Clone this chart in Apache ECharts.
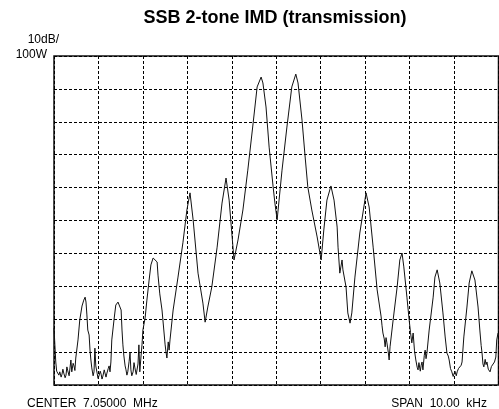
<!DOCTYPE html>
<html>
<head>
<meta charset="utf-8">
<script src="https://cdn.jsdelivr.net/npm/echarts@6/dist/echarts.min.js"></script>
<style>
html,body{margin:0;padding:0;background:#fff;}
#c{width:499px;height:409px;}
</style>
</head>
<body>
<div id="c"></div>
<script>
// Frequency offset from center (kHz), span 10 kHz
const freqKHz = [
-5.00,-4.98,-4.96,-4.94,-4.91,-4.89,-4.87,-4.84,-4.82,-4.80,-4.78,-4.75,-4.73,-4.71,-4.69,-4.66,-4.64,-4.62,-4.60,-4.57,-4.55,-4.53,-4.51,-4.46,-4.42,-4.37,-4.33,-4.30,-4.28,
-4.26,-4.24,-4.21,-4.19,-4.17,-4.15,-4.12,-4.10,-4.08,-4.06,-4.03,-4.01,-3.99,-3.96,-3.94,-3.92,-3.90,-3.87,-3.85,-3.83,-3.81,-3.78,-3.76,-3.74,-3.72,-3.70,-3.65,
-3.61,-3.56,-3.54,-3.49,-3.47,-3.45,-3.43,-3.40,-3.38,-3.36,-3.34,-3.31,-3.29,-3.27,-3.25,-3.22,-3.20,-3.18,-3.15,-3.13,-3.11,-3.09,-3.07,-3.04,-3.02,-3.00,
-2.95,-2.91,-2.86,-2.82,-2.77,-2.73,-2.68,-2.66,-2.62,-2.57,-2.55,-2.50,-2.48,-2.46,-2.43,-2.41,-2.39,-2.32,-2.21,-2.10,
-2.01,-1.94,-1.87,-1.76,-1.65,-1.60,-1.54,-1.45,-1.33,-1.22,-1.13,-1.06,-1.00,-0.95,-0.86,-0.75,-0.64,-0.52,-0.43,-0.34,
-0.30,-0.23,-0.16,-0.07,-0.03,0.02,0.13,0.24,0.35,0.44,0.49,0.58,0.65,0.71,0.80,0.92,1.01,1.07,1.14,1.23,
1.30,1.37,1.39,1.43,1.48,1.50,1.57,1.61,1.66,1.70,1.77,1.88,2.02,2.09,2.18,2.27,2.36,2.38,2.40,2.43,2.45,2.47,2.49,
2.52,2.54,2.56,2.63,2.72,2.78,2.83,2.87,2.94,2.99,3.02,3.05,3.08,3.11,3.14,3.17,3.19,3.21,3.24,3.26,3.28,3.30,3.33,3.35,3.37,3.39,3.44,3.53,3.57,
3.62,3.68,3.75,3.80,3.84,3.87,3.89,3.92,3.95,3.98,4.00,4.02,4.05,4.07,4.10,4.13,4.16,4.18,4.22,4.29,4.34,4.40,4.47,4.54,4.58,4.61,4.63,4.65,4.67,4.70,
4.72,4.74,4.77,4.81,4.84,4.88,4.91,4.94,4.96,4.99
];
// Level (dB relative to 100 W reference)
const levelDB = [
-82.7,-87.8,-93.0,-95.8,-95.4,-97.0,-96.0,-97.6,-96.7,-95.2,-96.4,-97.8,-97.0,-94.5,-95.7,-97.2,-94.8,-92.4,-96.0,-93.4,-94.2,-95.6,-91.8,-86.3,-80.2,-76.0,-74.2,-73.3,-74.8,
-78.7,-83.3,-84.8,-89.4,-92.4,-94.8,-97.2,-96.0,-88.8,-94.2,-96.4,-98.0,-97.3,-95.8,-96.7,-98.2,-97.3,-95.4,-96.0,-97.6,-96.4,-95.0,-94.2,-96.0,-93.0,-86.3,-80.2,
-75.7,-74.8,-74.6,-77.2,-83.3,-87.8,-90.9,-94.2,-95.4,-97.0,-96.0,-92.8,-90.3,-95.4,-97.2,-96.0,-93.2,-94.8,-96.8,-96.7,-93.6,-87.8,-96.0,-90.9,-87.8,-83.3,
-79.6,-74.2,-68.1,-63.5,-61.4,-61.1,-62.6,-66.6,-72.3,-77.2,-80.2,-87.8,-90.0,-91.8,-86.9,-89.4,-86.3,-77.2,-67.2,-56.8,
-46.8,-41.6,-49.8,-66.0,-75.1,-80.9,-76.3,-70.2,-58.1,-44.7,-37.1,-43.8,-53.8,-62.0,-55.9,-46.8,-34.7,-20.4,-9.4,-6.4,
-8.2,-15.5,-27.7,-39.8,-44.7,-49.8,-34.7,-21.6,-9.4,-5.5,-8.2,-19.5,-30.7,-39.8,-46.8,-55.0,-62.0,-52.9,-43.8,-39.5,
-43.8,-52.0,-58.1,-66.0,-62.0,-65.0,-70.2,-78.1,-81.2,-78.1,-67.2,-53.8,-41.6,-45.9,-58.1,-71.1,-79.3,-82.0,-84.2,-86.0,-88.4,-85.6,-87.2,
-90.0,-92.4,-88.4,-80.2,-70.2,-62.0,-59.9,-64.1,-73.3,-80.2,-84.0,-87.2,-84.2,-89.6,-92.4,-94.6,-95.4,-93.2,-95.8,-94.0,-93.0,-95.4,-91.0,-89.4,-92.0,-90.3,-83.3,-73.3,-67.2,
-65.0,-69.0,-78.1,-85.4,-90.3,-91.2,-92.4,-95.0,-96.0,-97.4,-97.0,-95.8,-97.2,-96.0,-95.0,-95.4,-94.0,-93.0,-85.4,-76.3,-69.0,-65.3,-68.1,-76.3,-83.3,-88.0,-90.3,-93.6,-94.5,-92.2,
-93.8,-93.0,-95.2,-96.0,-94.4,-94.5,-93.0,-91.5,-86.3,-84.2
];
const titleText = 'SSB 2-tone IMD (transmission)';
const scaleLabel = '10dB/';
const refLabel = '100W';
const centerLabel = 'CENTER  7.05000  MHz';
const spanLabel = 'SPAN  10.00  kHz';

const trace = freqKHz.map((f, i) => [f, levelDB[i]]);
const FONT = '"Liberation Sans", Arial, Helvetica, sans-serif';

const chart = echarts.init(document.getElementById('c'), null, {renderer: 'canvas'});
chart.setOption({
  animation: false,
  backgroundColor: '#fff',
  grid: {left: 54, top: 56, width: 444.5, height: 329, show: true, borderColor: '#111', borderWidth: 1.5, backgroundColor: 'transparent'},
  xAxis: {
    type: 'value', min: -5, max: 5, interval: 1,
    axisLine: {show: false}, axisTick: {show: false}, axisLabel: {show: false},
    splitLine: {show: true, lineStyle: {color: '#000', width: 1, type: [3, 2]}}
  },
  yAxis: {
    type: 'value', min: -100, max: 0, interval: 10,
    axisLine: {show: false}, axisTick: {show: false}, axisLabel: {show: false},
    splitLine: {show: true, lineStyle: {color: '#000', width: 1, type: [3, 2]}}
  },
  series: [{
    type: 'line', data: trace, showSymbol: false, smooth: false,
    lineStyle: {color: '#111', width: 1}, z: 3
  }],
  graphic: [
    {type: 'text', x: 275, y: 18, style: {text: titleText, font: 'bold 18px ' + FONT, fill: '#000', textAlign: 'center', textVerticalAlign: 'middle'}},
    {type: 'text', x: 59, y: 40, style: {text: scaleLabel, font: '12px ' + FONT, fill: '#000', textAlign: 'right', textVerticalAlign: 'middle'}},
    {type: 'text', x: 47, y: 55, style: {text: refLabel, font: '12px ' + FONT, fill: '#000', textAlign: 'right', textVerticalAlign: 'middle'}},
    {type: 'text', x: 27, y: 404, style: {text: centerLabel, font: '12px ' + FONT, fill: '#000', textAlign: 'left', textVerticalAlign: 'middle'}},
    {type: 'text', x: 487, y: 404, style: {text: spanLabel, font: '12px ' + FONT, fill: '#000', textAlign: 'right', textVerticalAlign: 'middle'}}
  ]
});
</script>
</body>
</html>
